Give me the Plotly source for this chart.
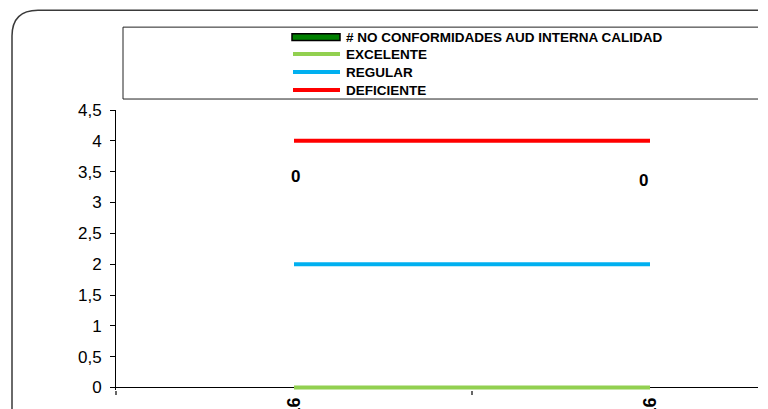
import plotly.graph_objects as go

categories = ["I SEM 2016", "II SEM 2016"]
no_conformidades = [0, 0]
excelente = [0, 0]
regular = [2, 2]
deficiente = [4, 4]
label_y = [3.42, 3.35]
y_ticks = [0, 0.5, 1, 1.5, 2, 2.5, 3, 3.5, 4, 4.5]

OFF = 8  # page body margin
W, H = 760, 401
YMIN, YMAX = -0.04, 4.5
unit = (388 - 110) / 4.5
plot_bottom = 388 + (-YMIN) * unit
L, R, T = 116 - OFF, 10, 110 - OFF
B = H - (plot_bottom - OFF)
pw = W - L - R
ph = H - T - B
cat_px = 356.0
xmax = -0.5 + pw / cat_px

fig = go.Figure()
fig.add_bar(x=categories, y=no_conformidades, name="# NO CONFORMIDADES AUD INTERNA CALIDAD",
            marker=dict(color="#008000", line=dict(color="black", width=0)), showlegend=False)
fig.add_scatter(x=categories, y=excelente, mode="lines", name="EXCELENTE",
                line=dict(color="#92D050", width=4), showlegend=False)
fig.add_scatter(x=categories, y=regular, mode="lines", name="REGULAR",
                line=dict(color="#00B0F0", width=4), showlegend=False)
fig.add_scatter(x=categories, y=deficiente, mode="lines", name="DEFICIENTE",
                line=dict(color="#FF0000", width=4), showlegend=False)

annotations = []
for i, (v, ly) in enumerate(zip(no_conformidades, label_y)):
    annotations.append(dict(x=i, y=ly, xref="x", yref="y", text=f"<b>{v}</b>", showarrow=False,
                            xshift=1 if i == 0 else -7,
                            font=dict(family="Liberation Sans, Arial", size=17, color="black")))

def px(x):
    return (x - OFF - L) / pw
def py(y):
    return (H - B - (y - OFF)) / ph

shapes = []
# outer chart border with rounded top-left corner
shapes.append(dict(type="path", xref="paper", yref="paper",
                   path=f"M {px(12)} {py(420)} L {px(12)} {py(36)} Q {px(12)} {py(10)} {px(38)} {py(10)} L {px(758)} {py(10)}",
                   line=dict(color="#3a3a3a", width=1.5)))
# legend box (top, left, bottom)
shapes.append(dict(type="path", xref="paper", yref="paper",
                   path=f"M {px(758)} {py(27)} L {px(123)} {py(27)} L {px(123)} {py(99)} L {px(758)} {py(99)}",
                   line=dict(color="#222222", width=1)))

legend_items = [("# NO CONFORMIDADES AUD INTERNA CALIDAD", "#008000", 37, True),
                ("EXCELENTE", "#92D050", 54, False),
                ("REGULAR", "#00B0F0", 72, False),
                ("DEFICIENTE", "#FF0000", 90, False)]
for name, col, yc, is_bar in legend_items:
    if is_bar:
        shapes.append(dict(type="rect", xref="paper", yref="paper",
                           x0=px(292), x1=px(340), y0=py(yc - 3.5), y1=py(yc + 3.5),
                           fillcolor=col, line=dict(color="black", width=1.5)))
    else:
        shapes.append(dict(type="line", xref="paper", yref="paper",
                           x0=px(293), x1=px(340), y0=py(yc), y1=py(yc),
                           line=dict(color=col, width=4)))
    annotations.append(dict(x=px(344), y=py(yc), xref="paper", yref="paper", text=f"<b>{name}</b>",
                            showarrow=False, xanchor="left", yanchor="middle",
                            font=dict(family="Liberation Sans, Arial", size=13.5, color="black")))

fig.update_layout(
    width=W, height=H,
    margin=dict(l=L, r=R, t=T, b=B, autoexpand=False),
    paper_bgcolor="white", plot_bgcolor="white",
    separators=", ",
    shapes=shapes, annotations=annotations,
    xaxis=dict(type="category", range=[-0.5, xmax], tickson="boundaries",
               showline=False,
               ticks="outside", ticklen=4, tickcolor="#666666", tickwidth=2,
               showgrid=False, zeroline=False, tickangle=-90, automargin=False,
               ticklabelstandoff=3,
               tickfont=dict(family="Liberation Sans, Arial", size=18, color="black", weight="bold")),
    yaxis=dict(range=[YMIN, YMAX], tickvals=y_ticks, showline=True, linecolor="black", linewidth=1,
               ticks="outside", ticklen=5, tickcolor="black", showgrid=False,
               zeroline=True, zerolinecolor="black", zerolinewidth=1,
               automargin=False, tickformat=".1~f", ticklabelstandoff=5,
               tickfont=dict(family="Liberation Sans, Arial", size=17, color="black")),
    bargap=0.5,
)
fig.write_html("out.html")
